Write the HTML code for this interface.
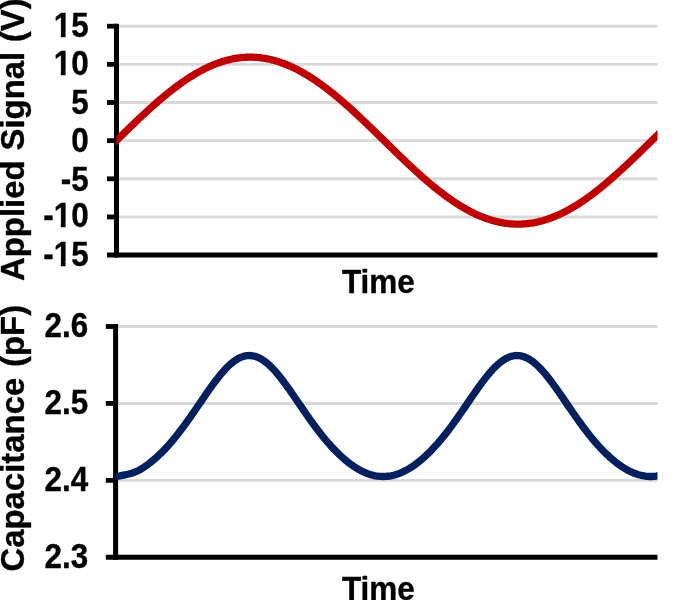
<!DOCTYPE html>
<html><head><meta charset="utf-8"><title>Applied Signal and Capacitance vs Time</title>
<style>html,body{margin:0;padding:0;background:#fff;overflow:hidden}svg{display:block}text{font-family:"Liberation Sans",Arial,Helvetica,sans-serif;font-weight:bold;font-size:32px;fill:#000;stroke:#000;stroke-width:0.35px;stroke-linejoin:round}</style></head><body>
<svg width="700" height="600" viewBox="0 0 700 600">
<rect width="700" height="600" fill="#fff"/>
<defs><clipPath id="c1"><rect x="116.35" y="0" width="541.15" height="300"/></clipPath><clipPath id="c2"><rect x="115.45" y="300" width="542.05" height="300"/></clipPath></defs>
<g stroke="#d9d9d9" stroke-width="2.9"><line x1="118" x2="657.50" y1="26.20" y2="26.20"/><line x1="118" x2="657.50" y1="64.35" y2="64.35"/><line x1="118" x2="657.50" y1="102.50" y2="102.50"/><line x1="118" x2="657.50" y1="140.65" y2="140.65"/><line x1="118" x2="657.50" y1="178.80" y2="178.80"/><line x1="118" x2="657.50" y1="216.95" y2="216.95"/></g>
<g stroke="#000" stroke-width="5">
<line x1="116.50" x2="116.50" y1="23.80" y2="257.60"/>
<line x1="107.00" x2="657.50" y1="255.10" y2="255.10"/>
</g><g stroke="#000" stroke-width="4.8">
<line x1="107.00" x2="116.50" y1="26.20" y2="26.20"/>
<line x1="107.00" x2="116.50" y1="64.35" y2="64.35"/>
<line x1="107.00" x2="116.50" y1="102.50" y2="102.50"/>
<line x1="107.00" x2="116.50" y1="140.65" y2="140.65"/>
<line x1="107.00" x2="116.50" y1="178.80" y2="178.80"/>
<line x1="107.00" x2="116.50" y1="216.95" y2="216.95"/>
</g>
<path d="M110.94,145.95 L112.29,144.62 L113.64,143.30 L115.00,141.98 L116.35,140.65 L117.70,139.32 L119.06,138.00 L120.41,136.68 L121.76,135.35 L123.11,134.03 L124.47,132.71 L125.82,131.39 L127.17,130.08 L128.53,128.76 L129.88,127.45 L131.23,126.15 L132.58,124.84 L133.94,123.54 L135.29,122.25 L136.64,120.96 L138.00,119.67 L139.35,118.39 L140.70,117.12 L142.05,115.85 L143.41,114.59 L144.76,113.33 L146.11,112.08 L147.47,110.84 L148.82,109.61 L150.17,108.38 L151.52,107.16 L152.88,105.95 L154.23,104.75 L155.58,103.56 L156.94,102.38 L158.29,101.21 L159.64,100.04 L160.99,98.89 L162.35,97.75 L163.70,96.62 L165.05,95.50 L166.41,94.39 L167.76,93.29 L169.11,92.20 L170.47,91.13 L171.82,90.07 L173.17,89.02 L174.52,87.99 L175.88,86.97 L177.23,85.96 L178.58,84.96 L179.94,83.98 L181.29,83.02 L182.64,82.07 L183.99,81.13 L185.35,80.21 L186.70,79.30 L188.05,78.41 L189.41,77.54 L190.76,76.68 L192.11,75.83 L193.46,75.01 L194.82,74.20 L196.17,73.40 L197.52,72.63 L198.88,71.87 L200.23,71.12 L201.58,70.40 L202.93,69.69 L204.29,69.00 L205.64,68.33 L206.99,67.68 L208.35,67.05 L209.70,66.43 L211.05,65.83 L212.40,65.26 L213.76,64.70 L215.11,64.16 L216.46,63.64 L217.82,63.13 L219.17,62.65 L220.52,62.19 L221.87,61.75 L223.23,61.32 L224.58,60.92 L225.93,60.54 L227.29,60.18 L228.64,59.84 L229.99,59.51 L231.34,59.21 L232.70,58.93 L234.05,58.67 L235.40,58.43 L236.76,58.21 L238.11,58.02 L239.46,57.84 L240.81,57.68 L242.17,57.55 L243.52,57.43 L244.87,57.34 L246.23,57.27 L247.58,57.22 L248.93,57.19 L250.28,57.18 L251.64,57.19 L252.99,57.22 L254.34,57.28 L255.70,57.35 L257.05,57.45 L258.40,57.56 L259.75,57.70 L261.11,57.86 L262.46,58.04 L263.81,58.24 L265.17,58.46 L266.52,58.70 L267.87,58.97 L269.22,59.25 L270.58,59.55 L271.93,59.88 L273.28,60.22 L274.64,60.59 L275.99,60.97 L277.34,61.38 L278.69,61.80 L280.05,62.25 L281.40,62.71 L282.75,63.20 L284.11,63.70 L285.46,64.22 L286.81,64.76 L288.17,65.33 L289.52,65.91 L290.87,66.51 L292.22,67.12 L293.58,67.76 L294.93,68.42 L296.28,69.09 L297.64,69.78 L298.99,70.49 L300.34,71.22 L301.69,71.96 L303.05,72.72 L304.40,73.50 L305.75,74.30 L307.11,75.11 L308.46,75.94 L309.81,76.78 L311.16,77.64 L312.52,78.52 L313.87,79.42 L315.22,80.32 L316.58,81.25 L317.93,82.19 L319.28,83.14 L320.63,84.11 L321.99,85.09 L323.34,86.08 L324.69,87.09 L326.05,88.12 L327.40,89.15 L328.75,90.20 L330.10,91.27 L331.46,92.34 L332.81,93.43 L334.16,94.53 L335.52,95.64 L336.87,96.76 L338.22,97.89 L339.57,99.03 L340.93,100.19 L342.28,101.35 L343.63,102.53 L344.99,103.71 L346.34,104.90 L347.69,106.10 L349.04,107.32 L350.40,108.53 L351.75,109.76 L353.10,111.00 L354.46,112.24 L355.81,113.49 L357.16,114.75 L358.51,116.01 L359.87,117.28 L361.22,118.55 L362.57,119.83 L363.93,121.12 L365.28,122.41 L366.63,123.71 L367.98,125.01 L369.34,126.31 L370.69,127.62 L372.04,128.93 L373.40,130.24 L374.75,131.56 L376.10,132.88 L377.45,134.20 L378.81,135.52 L380.16,136.84 L381.51,138.17 L382.87,139.49 L384.22,140.82 L385.57,142.14 L386.92,143.47 L388.28,144.79 L389.63,146.11 L390.98,147.43 L392.34,148.75 L393.69,150.07 L395.04,151.39 L396.40,152.70 L397.75,154.01 L399.10,155.32 L400.45,156.62 L401.81,157.92 L403.16,159.21 L404.51,160.50 L405.87,161.79 L407.22,163.07 L408.57,164.34 L409.92,165.61 L411.28,166.87 L412.63,168.12 L413.98,169.37 L415.34,170.61 L416.69,171.85 L418.04,173.07 L419.39,174.29 L420.75,175.50 L422.10,176.70 L423.45,177.89 L424.81,179.07 L426.16,180.24 L427.51,181.40 L428.86,182.55 L430.22,183.69 L431.57,184.82 L432.92,185.94 L434.28,187.05 L435.63,188.15 L436.98,189.23 L438.33,190.30 L439.69,191.36 L441.04,192.41 L442.39,193.44 L443.75,194.46 L445.10,195.47 L446.45,196.46 L447.80,197.44 L449.16,198.40 L450.51,199.35 L451.86,200.29 L453.22,201.21 L454.57,202.11 L455.92,203.00 L457.27,203.87 L458.63,204.73 L459.98,205.57 L461.33,206.40 L462.69,207.20 L464.04,208.00 L465.39,208.77 L466.74,209.53 L468.10,210.27 L469.45,210.99 L470.80,211.69 L472.16,212.38 L473.51,213.05 L474.86,213.70 L476.21,214.33 L477.57,214.95 L478.92,215.54 L480.27,216.12 L481.63,216.67 L482.98,217.21 L484.33,217.73 L485.68,218.23 L487.04,218.71 L488.39,219.17 L489.74,219.61 L491.10,220.03 L492.45,220.43 L493.80,220.81 L495.15,221.17 L496.51,221.51 L497.86,221.82 L499.21,222.12 L500.57,222.40 L501.92,222.66 L503.27,222.90 L504.63,223.11 L505.98,223.31 L507.33,223.48 L508.68,223.63 L510.04,223.77 L511.39,223.88 L512.74,223.97 L514.10,224.04 L515.45,224.09 L516.80,224.12 L518.15,224.12 L519.51,224.11 L520.86,224.07 L522.21,224.02 L523.57,223.94 L524.92,223.84 L526.27,223.72 L527.62,223.58 L528.98,223.42 L530.33,223.24 L531.68,223.03 L533.04,222.81 L534.39,222.56 L535.74,222.30 L537.09,222.01 L538.45,221.71 L539.80,221.38 L541.15,221.03 L542.51,220.67 L543.86,220.28 L545.21,219.87 L546.56,219.44 L547.92,219.00 L549.27,218.53 L550.62,218.04 L551.98,217.54 L553.33,217.01 L554.68,216.47 L556.03,215.90 L557.39,215.32 L558.74,214.72 L560.09,214.10 L561.45,213.46 L562.80,212.80 L564.15,212.12 L565.50,211.43 L566.86,210.72 L568.21,209.99 L569.56,209.24 L570.92,208.48 L572.27,207.70 L573.62,206.90 L574.97,206.09 L576.33,205.26 L577.68,204.41 L579.03,203.55 L580.39,202.67 L581.74,201.77 L583.09,200.86 L584.44,199.94 L585.80,199.00 L587.15,198.04 L588.50,197.07 L589.86,196.09 L591.21,195.09 L592.56,194.08 L593.91,193.05 L595.27,192.02 L596.62,190.96 L597.97,189.90 L599.33,188.82 L600.68,187.74 L602.03,186.64 L603.38,185.52 L604.74,184.40 L606.09,183.27 L607.44,182.12 L608.80,180.97 L610.15,179.80 L611.50,178.63 L612.86,177.44 L614.21,176.25 L615.56,175.04 L616.91,173.83 L618.27,172.61 L619.62,171.38 L620.97,170.15 L622.33,168.90 L623.68,167.65 L625.03,166.40 L626.38,165.13 L627.74,163.86 L629.09,162.59 L630.44,161.31 L631.80,160.02 L633.15,158.73 L634.50,157.43 L635.85,156.13 L637.21,154.83 L638.56,153.52 L639.91,152.21 L641.27,150.89 L642.62,149.58 L643.97,148.26 L645.32,146.94 L646.68,145.62 L648.03,144.29 L649.38,142.97 L650.74,141.64 L652.09,140.32 L653.44,138.99 L654.79,137.67 L656.15,136.34 L657.50,135.02 L658.85,133.70 L660.21,132.38 L661.56,131.06 L662.91,129.75" fill="none" stroke="#c00000" stroke-width="7.3" stroke-linejoin="round" clip-path="url(#c1)"/>
<g text-anchor="end">
<text transform="translate(88.70,37.05) scale(0.98,1.07)">15</text>
<text transform="translate(88.70,75.40) scale(0.98,1.07)">10</text>
<text transform="translate(88.70,114.15) scale(0.98,1.07)">5</text>
<text transform="translate(88.70,151.50) scale(0.98,1.07)">0</text>
<text transform="translate(88.70,190.55) scale(0.98,1.07)">-5</text>
<text transform="translate(88.70,227.40) scale(0.98,1.07)">-10</text>
<text transform="translate(88.70,265.95) scale(0.98,1.07)">-15</text>
</g>
<rect x="52.5" y="32.30" width="8.35" height="7" fill="#fff"/><rect x="65.58" y="32.30" width="5.92" height="7" fill="#fff"/>
<rect x="52.5" y="70.65" width="8.35" height="7" fill="#fff"/><rect x="65.58" y="70.65" width="5.92" height="7" fill="#fff"/>
<rect x="52.5" y="222.65" width="8.35" height="7" fill="#fff"/><rect x="65.58" y="222.65" width="5.92" height="7" fill="#fff"/>
<rect x="52.5" y="261.20" width="8.35" height="7" fill="#fff"/><rect x="65.58" y="261.20" width="5.92" height="7" fill="#fff"/>
<text transform="translate(378.40,293.30) scale(0.985,1.045)" text-anchor="middle">Time</text>
<text transform="translate(24.30,281.00) rotate(-90) scale(1.028,1.02)">Applied<tspan dx="0.8"> Signal</tspan><tspan dx="0.5"> (V)</tspan></text>
<g stroke="#d9d9d9" stroke-width="2.9"><line x1="117" x2="657.50" y1="326.50" y2="326.50"/><line x1="117" x2="657.50" y1="403.43" y2="403.43"/><line x1="117" x2="657.50" y1="480.37" y2="480.37"/></g>
<g stroke="#000" stroke-width="5">
<line x1="115.60" x2="115.60" y1="324.10" y2="559.80"/>
<line x1="105.80" x2="657.50" y1="557.30" y2="557.30"/>
</g><g stroke="#000" stroke-width="4.8">
<line x1="105.80" x2="115.60" y1="326.50" y2="326.50"/>
<line x1="105.80" x2="115.60" y1="403.43" y2="403.43"/>
<line x1="105.80" x2="115.60" y1="480.37" y2="480.37"/>
</g>
<path d="M110.03,477.96 L111.38,477.68 L112.74,477.39 L114.09,477.11 L115.45,476.82 L116.81,476.53 L118.16,476.25 L119.52,475.96 L120.87,475.68 L122.23,475.39 L123.58,475.11 L124.94,474.82 L126.29,474.54 L127.65,474.25 L129.00,473.93 L130.36,473.58 L131.71,473.18 L133.07,472.74 L134.42,472.26 L135.78,471.72 L137.13,471.13 L138.49,470.48 L139.84,469.77 L141.20,469.00 L142.55,468.15 L143.91,467.27 L145.26,466.35 L146.62,465.40 L147.97,464.40 L149.33,463.37 L150.68,462.30 L152.04,461.20 L153.39,460.06 L154.75,458.89 L156.10,457.68 L157.46,456.44 L158.81,455.16 L160.17,453.85 L161.52,452.67 L162.88,451.29 L164.23,449.88 L165.59,448.44 L166.94,446.97 L168.30,445.46 L169.66,443.92 L171.01,442.35 L172.37,440.76 L173.72,439.13 L175.08,437.47 L176.43,435.79 L177.79,434.07 L179.14,432.33 L180.50,430.57 L181.85,428.78 L183.21,426.96 L184.56,425.12 L185.92,423.26 L187.27,421.38 L188.63,419.48 L189.98,417.57 L191.34,415.63 L192.69,413.69 L194.05,411.73 L195.40,409.76 L196.76,407.78 L198.11,405.79 L199.47,403.80 L200.82,401.82 L202.18,399.83 L203.53,397.85 L204.89,395.87 L206.24,393.90 L207.60,391.95 L208.95,390.02 L210.31,388.10 L211.66,386.21 L213.02,384.34 L214.37,382.50 L215.73,380.70 L217.08,378.93 L218.44,377.20 L219.79,375.51 L221.15,373.87 L222.50,372.29 L223.86,370.75 L225.22,369.27 L226.57,367.85 L227.93,366.50 L229.28,365.21 L230.64,363.99 L231.99,362.85 L233.35,361.78 L234.70,360.78 L236.06,359.87 L237.41,359.04 L238.77,358.29 L240.12,357.63 L241.48,357.06 L242.83,356.57 L244.19,356.18 L245.54,355.87 L246.90,355.66 L248.25,355.54 L249.61,355.52 L250.96,355.59 L252.32,355.75 L253.67,356.00 L255.03,356.34 L256.38,356.78 L257.74,357.30 L259.09,357.92 L260.45,358.62 L261.80,359.40 L263.16,360.27 L264.51,361.22 L265.87,362.25 L267.22,363.36 L268.58,364.54 L269.93,365.79 L271.29,367.11 L272.64,368.49 L274.00,369.93 L275.35,371.44 L276.71,373.00 L278.06,374.61 L279.42,376.27 L280.78,377.97 L282.13,379.72 L283.49,381.50 L284.84,383.32 L286.20,385.17 L287.55,387.05 L288.91,388.96 L290.26,390.88 L291.62,392.82 L292.97,394.78 L294.33,396.75 L295.68,398.72 L297.04,400.71 L298.39,402.69 L299.75,404.68 L301.10,406.66 L302.46,408.64 L303.81,410.61 L305.17,412.58 L306.52,414.53 L307.88,416.46 L309.23,418.39 L310.59,420.29 L311.94,422.18 L313.30,424.04 L314.65,425.89 L316.01,427.71 L317.36,429.50 L318.72,431.28 L320.07,433.02 L321.43,434.74 L322.78,436.43 L324.14,438.09 L325.49,439.73 L326.85,441.33 L328.20,442.90 L329.56,444.45 L330.91,445.96 L332.27,447.44 L333.63,448.88 L334.98,450.30 L336.34,451.68 L337.69,453.03 L339.05,454.34 L340.40,455.63 L341.76,456.87 L343.11,458.08 L344.47,459.26 L345.82,460.40 L347.18,461.51 L348.53,462.58 L349.89,463.62 L351.24,464.61 L352.60,465.58 L353.95,466.50 L355.31,467.38 L356.66,468.23 L358.02,469.04 L359.37,469.81 L360.73,470.54 L362.08,471.23 L363.44,471.88 L364.79,472.49 L366.15,473.05 L367.50,473.58 L368.86,474.06 L370.21,474.50 L371.57,474.90 L372.92,475.26 L374.28,475.57 L375.63,475.84 L376.99,476.06 L378.34,476.24 L379.70,476.38 L381.05,476.47 L382.41,476.51 L383.76,476.52 L385.12,476.47 L386.47,476.39 L387.83,476.25 L389.19,476.08 L390.54,475.86 L391.90,475.60 L393.25,475.29 L394.61,474.94 L395.96,474.54 L397.32,474.11 L398.67,473.63 L400.03,473.11 L401.38,472.54 L402.74,471.94 L404.09,471.29 L405.45,470.61 L406.80,469.88 L408.16,469.11 L409.51,468.31 L410.87,467.47 L412.22,466.58 L413.58,465.66 L414.93,464.71 L416.29,463.71 L417.64,462.68 L419.00,461.61 L420.35,460.51 L421.71,459.37 L423.06,458.20 L424.42,456.99 L425.77,455.74 L427.13,454.46 L428.48,453.15 L429.84,451.81 L431.19,450.43 L432.55,449.02 L433.90,447.57 L435.26,446.10 L436.61,444.59 L437.97,443.05 L439.32,441.48 L440.68,439.88 L442.04,438.25 L443.39,436.59 L444.75,434.90 L446.10,433.18 L447.46,431.44 L448.81,429.67 L450.17,427.87 L451.52,426.06 L452.88,424.21 L454.23,422.35 L455.59,420.47 L456.94,418.56 L458.30,416.64 L459.65,414.71 L461.01,412.76 L462.36,410.80 L463.72,408.83 L465.07,406.85 L466.43,404.86 L467.78,402.88 L469.14,400.89 L470.49,398.91 L471.85,396.93 L473.20,394.96 L474.56,393.00 L475.91,391.06 L477.27,389.13 L478.62,387.23 L479.98,385.35 L481.33,383.49 L482.69,381.67 L484.04,379.88 L485.40,378.13 L486.75,376.42 L488.11,374.76 L489.46,373.14 L490.82,371.58 L492.17,370.07 L493.53,368.62 L494.88,367.23 L496.24,365.91 L497.60,364.65 L498.95,363.46 L500.31,362.35 L501.66,361.32 L503.02,360.36 L504.37,359.48 L505.73,358.69 L507.08,357.98 L508.44,357.36 L509.79,356.82 L511.15,356.38 L512.50,356.03 L513.86,355.77 L515.21,355.60 L516.57,355.52 L517.92,355.54 L519.28,355.65 L520.63,355.85 L521.99,356.14 L523.34,356.53 L524.70,357.01 L526.05,357.57 L527.41,358.23 L528.76,358.96 L530.12,359.79 L531.47,360.69 L532.83,361.68 L534.18,362.74 L535.54,363.88 L536.89,365.10 L538.25,366.38 L539.60,367.72 L540.96,369.14 L542.31,370.61 L543.67,372.14 L545.02,373.72 L546.38,375.35 L547.73,377.04 L549.09,378.76 L550.45,380.52 L551.80,382.32 L553.16,384.16 L554.51,386.02 L555.87,387.91 L557.22,389.83 L558.58,391.76 L559.93,393.71 L561.29,395.67 L562.64,397.64 L564.00,399.62 L565.35,401.61 L566.71,403.59 L568.06,405.58 L569.42,407.56 L570.77,409.54 L572.13,411.51 L573.48,413.46 L574.84,415.41 L576.19,417.34 L577.55,419.25 L578.90,421.15 L580.26,423.02 L581.61,424.88 L582.97,426.71 L584.32,428.53 L585.68,430.31 L587.03,432.07 L588.39,433.81 L589.74,435.51 L591.10,437.19 L592.45,438.84 L593.81,440.46 L595.16,442.05 L596.52,443.61 L597.87,445.14 L599.23,446.63 L600.58,448.10 L601.94,449.53 L603.29,450.93 L604.65,452.30 L606.01,453.63 L607.36,454.93 L608.72,456.20 L610.07,457.43 L611.43,458.62 L612.78,459.78 L614.14,460.91 L615.49,462.00 L616.85,463.06 L618.20,464.07 L619.56,465.06 L620.91,466.00 L622.27,466.91 L623.62,467.77 L624.98,468.60 L626.33,469.39 L627.69,470.15 L629.04,470.86 L630.40,471.53 L631.75,472.16 L633.11,472.75 L634.46,473.30 L635.82,473.80 L637.17,474.27 L638.53,474.69 L639.88,475.07 L641.24,475.40 L642.59,475.70 L643.95,475.94 L645.30,476.15 L646.66,476.31 L648.01,476.42 L649.37,476.49 L650.72,476.52 L652.08,476.50 L653.43,476.44 L654.79,476.33 L656.14,476.18 L657.50,475.98 L658.86,475.75 L660.21,475.46 L661.57,475.13 L662.92,474.76" fill="none" stroke="#002060" stroke-width="7.3" stroke-linejoin="round" clip-path="url(#c2)"/>
<g text-anchor="end">
<text transform="translate(88.10,337.40) scale(0.98,1.07)">2.6</text>
<text transform="translate(88.10,414.33) scale(0.98,1.07)">2.5</text>
<text transform="translate(88.10,491.27) scale(0.98,1.07)">2.4</text>
<text transform="translate(88.10,568.20) scale(0.98,1.07)">2.3</text>
</g>
<text transform="translate(378.40,600.10) scale(0.985,1.045)" text-anchor="middle">Time</text>
<text transform="translate(24.30,571.50) rotate(-90) scale(1.028,1.02)">Capacitance <tspan dx="1.7">(pF)</tspan></text>
</svg></body></html>
